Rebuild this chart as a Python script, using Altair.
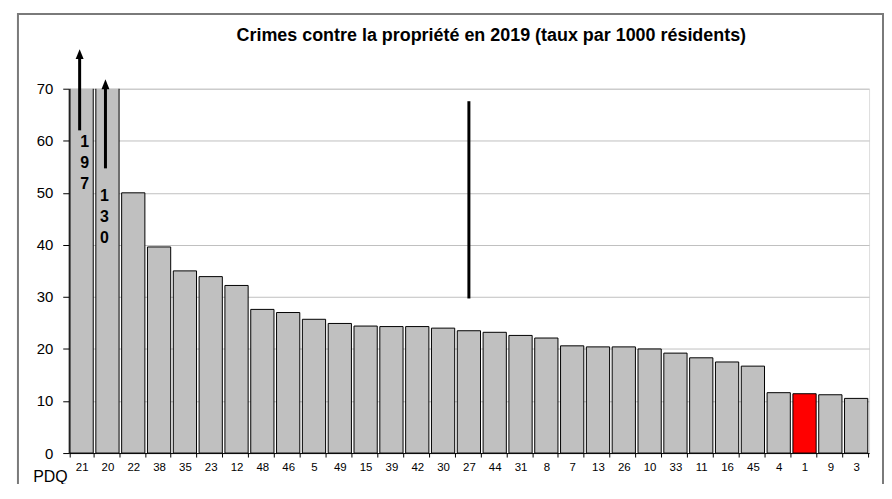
import altair as alt
import pandas as pd

# ---- data ----
pdq = ["21", "20", "22", "38", "35", "23", "12", "48", "46", "5", "49", "15", "39", "42",
       "30", "27", "44", "31", "8", "7", "13", "26", "10", "33", "11", "16", "45", "4",
       "1", "9", "3"]
taux = [197, 130, 50.0, 39.6, 35.0, 33.9, 32.2, 27.6, 27.0, 25.7, 24.9, 24.4, 24.3, 24.3,
        24.0, 23.5, 23.2, 22.6, 22.1, 20.6, 20.4, 20.4, 20.0, 19.2, 18.3, 17.5, 16.7, 11.6,
        11.4, 11.2, 10.5]
highlight = ["1"]
y_ticks = [0, 10, 20, 30, 40, 50, 60, 70]
title_text = "Crimes contre la propriété en 2019 (taux par 1000 résidents)"

df = pd.DataFrame({"pdq": pdq, "taux": taux})
df["couleur"] = ["#ff0000" if p in highlight else "#c0c0c0" for p in pdq]

FONT = "Liberation Sans"

x_enc = alt.X(
    "pdq:N", sort=pdq,
    scale=alt.Scale(paddingInner=0.1, paddingOuter=0.05),
    axis=alt.Axis(title=None, labelAngle=0, tickBand="extent", tickSize=4,
                  labelFontSize=11.5, labelPadding=5, domainColor="black",
                  tickColor="black", labelColor="black", labelFont=FONT, grid=False),
)
y_scale = alt.Scale(domain=[0, 70], nice=False)
y_axis = alt.Axis(title=None, values=y_ticks, tickSize=6, labelPadding=10, labelFontSize=15,
                  labelFont=FONT, labelColor="black", domainColor="black", tickColor="black",
                  grid=True, gridColor="#c0c0c0", gridWidth=1)

bars = alt.Chart(df).mark_bar(clip=True, stroke="black", strokeWidth=1).encode(
    x=x_enc,
    y=alt.Y("taux:Q", scale=y_scale, axis=y_axis),
    fill=alt.Fill("couleur:N", scale=None),
)

# ---- annotations ----
arrows = pd.DataFrame({"pdq": ["21", "20"], "y0": [62.0, 54.7], "y1": [76.0, 70.0],
                       "tip": [77.6, 71.8]})
shafts = alt.Chart(arrows).mark_rule(strokeWidth=3, color="black", xOffset=-2).encode(
    x=alt.X("pdq:N", sort=pdq), y=alt.Y("y0:Q", scale=y_scale), y2="y1:Q")
heads = alt.Chart(arrows).mark_point(
    shape="M0,0L-0.8,2L0.8,2Z", filled=True, size=100, color="black", opacity=1,
    strokeWidth=0, xOffset=-2).encode(
    x=alt.X("pdq:N", sort=pdq), y=alt.Y("tip:Q", scale=y_scale))


def big_label(code, text, yval, dx):
    d = pd.DataFrame({"pdq": [code], "v": [yval], "t": [text]})
    return alt.Chart(d).mark_text(
        lineBreak="\n", fontWeight="bold", fontSize=16, lineHeight=21, baseline="middle",
        align="center", font=FONT, color="black", dx=dx).encode(
        x=alt.X("pdq:N", sort=pdq), y=alt.Y("v:Q", scale=y_scale), text="t:N")


lab197 = big_label("21", "1\n9\n7", 59.8, 3)
lab130 = big_label("20", "1\n3\n0", 49.4, -3)

vline_df = pd.DataFrame({"pdq": ["27"], "a": [67.6], "b": [29.7]})
vline = alt.Chart(vline_df).mark_rule(strokeWidth=3, color="black").encode(
    x=alt.X("pdq:N", sort=pdq), y=alt.Y("a:Q", scale=y_scale), y2="b:Q")

txt_df = pd.DataFrame({"t": [title_text]})
title = alt.Chart(txt_df).mark_text(
    fontSize=18, fontWeight="bold", font=FONT, color="black", align="center",
    baseline="alphabetic").encode(x=alt.value(424.5), y=alt.value(-47.5), text="t:N")

pdq_df = pd.DataFrame({"t": ["PDQ"]})
pdq_lab = alt.Chart(pdq_df).mark_text(
    fontSize=16, font=FONT, color="black", align="right", baseline="alphabetic").encode(
    x=alt.value(-1), y=alt.value(28 + 366 + 1), text="t:N")

frame = alt.Chart(txt_df).mark_rect(fillOpacity=0, stroke="#7a7a7a", strokeWidth=2).encode(
    x=alt.value(-51), x2=alt.value(818), y=alt.value(-75), y2=alt.value(430))

chart = alt.layer(frame, bars, shafts, heads, lab197, lab130, vline, title, pdq_lab).properties(
    width=804, height=366,
    autosize=alt.AutoSizeParams(type="none"),
    padding={"left": 61, "top": 80, "right": 15, "bottom": 30},
).configure_view(stroke="#b0b0b0", strokeWidth=1).configure(background="white")

chart.save("out.html", embed_options={"renderer": "svg", "actions": False})
